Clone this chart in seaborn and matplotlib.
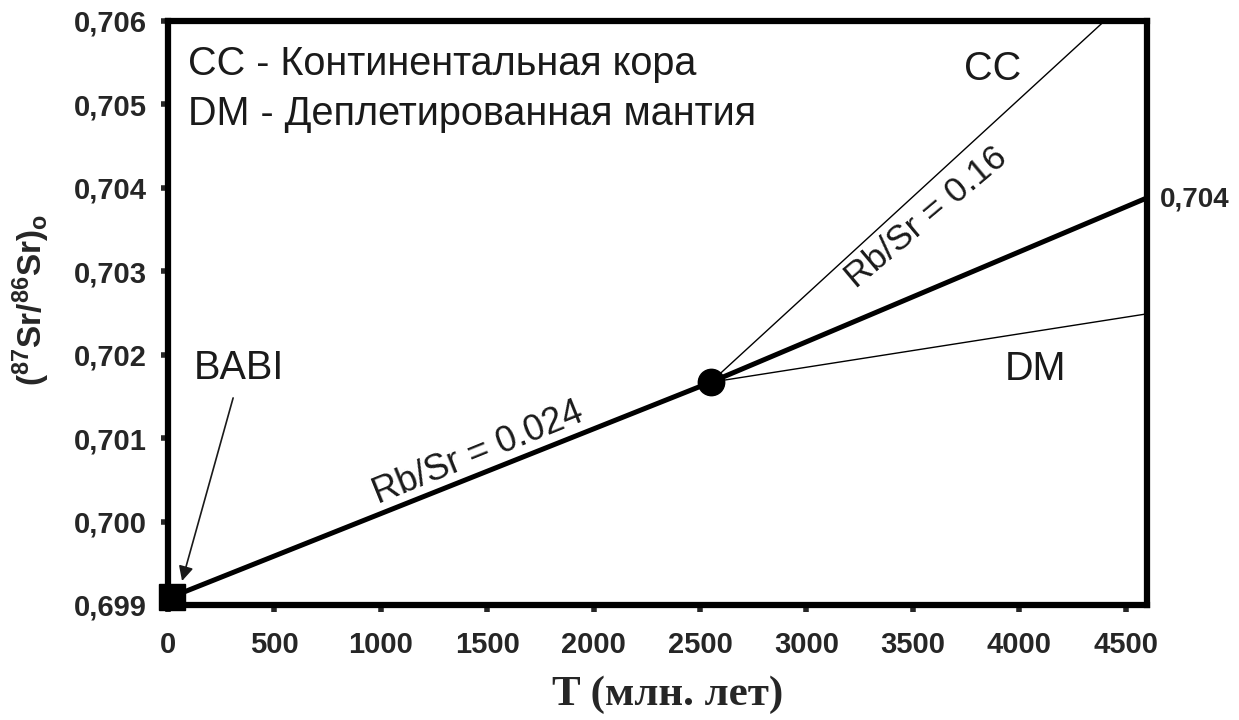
import matplotlib
matplotlib.use("Agg")
import matplotlib.pyplot as plt
import seaborn as sns
import pandas as pd

# Sr isotope evolution: BABI -> node at ~2550 Ma -> present-day reservoirs
t_bulk = [20, 2550, 4600]
sr_bulk = [0.6991, 0.70167, 0.70388]
t_cc = [2550, 4400]
sr_cc = [0.70167, 0.706]
t_dm = [2550, 4600]
sr_dm = [0.70167, 0.70249]
t_babi, sr_babi = [20], [0.6991]
t_node, sr_node = [2550], [0.70167]

x_ticks = [0, 500, 1000, 1500, 2000, 2500, 3000, 3500, 4000, 4500]
y_ticks = [0.699, 0.700, 0.701, 0.702, 0.703, 0.704, 0.705, 0.706]
y_tick_labels = ["0,699", "0,700", "0,701", "0,702", "0,703", "0,704", "0,705", "0,706"]

sns.set_theme(style="ticks")
plt.rcParams["font.family"] = ["Liberation Sans", "DejaVu Sans"]
plt.rcParams["mathtext.fontset"] = "custom"
plt.rcParams["mathtext.rm"] = "Liberation Sans:bold"
plt.rcParams["mathtext.bf"] = "Liberation Sans:bold"
plt.rcParams["mathtext.it"] = "Liberation Sans:bold"

fig = plt.figure(figsize=(12.39, 7.2), dpi=100)
ax = fig.add_axes([168 / 1239, 1 - 605 / 720, (1147 - 168) / 1239, (605 - 21) / 720])

df_bulk = pd.DataFrame({"T": t_bulk, "Sr": sr_bulk})
df_cc = pd.DataFrame({"T": t_cc, "Sr": sr_cc})
df_dm = pd.DataFrame({"T": t_dm, "Sr": sr_dm})

sns.lineplot(data=df_cc, x="T", y="Sr", ax=ax, color="black", lw=1.0)
sns.lineplot(data=df_dm, x="T", y="Sr", ax=ax, color="black", lw=1.0)
sns.lineplot(data=df_bulk, x="T", y="Sr", ax=ax, color="black", lw=3.6)
ax.plot(t_node, sr_node, "o", color="black", ms=19, clip_on=False, zorder=5)
ax.plot(t_babi, sr_babi, "s", color="black", ms=19, clip_on=False, zorder=5)

ax.set_xlim(0, 4600)
ax.set_ylim(0.699, 0.706)
ax.set_xticks(x_ticks)
ax.set_xticklabels([str(v) for v in x_ticks])
ax.set_yticks(y_ticks)
ax.set_yticklabels(y_tick_labels)
ax.tick_params(axis="both", direction="out", length=5, width=4, labelsize=21)
ax.tick_params(axis="x", pad=14)
ax.tick_params(axis="y", pad=10)
for lab in ax.get_xticklabels() + ax.get_yticklabels():
    lab.set_fontweight("bold")
for sp in ax.spines.values():
    sp.set_visible(True)
    sp.set_linewidth(4.5)
    sp.set_color("black")

ax.set_xlabel("T (млн. лет)", fontsize=31, fontweight="bold",
              family=["Liberation Serif", "DejaVu Serif"])
ax.xaxis.set_label_coords((668 - 168) / 979, -(676 - 605) / 584)
ax.set_ylabel(r"$\mathrm{(^{87}Sr/^{86}Sr)_o}$", fontsize=24)
ax.yaxis.set_label_coords(-(168 - 52) / 979, (605 - 300) / 584)

txt = dict(color="#1a1a1a", fontsize=28.5)
ax.text(94, 0.70549, "CC - Континентальная кора", ha="left", va="center", **txt)
ax.text(94, 0.70489, "DM - Деплетированная мантия", ha="left", va="center", **txt)
ax.text(3876, 0.705427, "CC", ha="center", va="center", **txt)
ax.text(4078, 0.70183, "DM", ha="center", va="center", **txt)
ax.text(334, 0.70184, "BABI", ha="center", va="center", **txt)
ax.text(1458, 0.700823, "Rb/Sr = 0.024", ha="center", va="center", rotation=22,
        rotation_mode="anchor", color="#1a1a1a", fontsize=26)
ax.text(3561, 0.70364, "Rb/Sr = 0.16", ha="center", va="center", rotation=40,
        rotation_mode="anchor", color="#1a1a1a", fontsize=25.5)

ax.annotate("0,704", xy=(t_bulk[-1], sr_bulk[-1]), xytext=(9, -1),
            textcoords="offset points", ha="left", va="center",
            fontsize=20, fontweight="bold", annotation_clip=False)

ax.annotate("", xy=(66, 0.699288), xytext=(306, 0.701482),
            arrowprops=dict(arrowstyle="-|>", color="#1a1a1a", lw=1.2,
                            mutation_scale=22, shrinkA=0, shrinkB=0))

fig.savefig("out.png", dpi=100)
